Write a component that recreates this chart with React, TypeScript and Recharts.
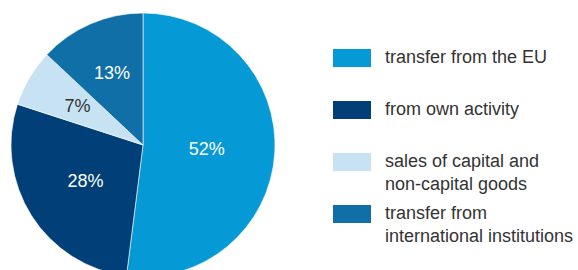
import { PieChart, Pie, Cell, Legend } from "recharts";

const CATEGORIES = [
  "transfer from the EU",
  "from own activity",
  "sales of capital and non-capital goods",
  "transfer from international institutions",
];
const LEGEND_LINES = [
  ["transfer from the EU"],
  ["from own activity"],
  ["sales of capital and", "non-capital goods"],
  ["transfer from", "international institutions"],
];
const SHARES = [52, 28, 7, 13];
const COLORS = ["#0599d6", "#003f77", "#c6e2f3", "#0f6fa6"];
const LABEL_COLORS = ["#ffffff", "#ffffff", "#333333", "#ffffff"];
// distance of each percentage label from the centre
const LABEL_RADII = [64, 68, 76, 78];

const data = CATEGORIES.map((name, i) => ({ name, value: SHARES[i] }));

const RADIAN = Math.PI / 180;

const renderLabel = (props: any) => {
  const { cx, cy, midAngle, index, value } = props;
  const r = LABEL_RADII[index];
  const x = cx + r * Math.cos(-midAngle * RADIAN);
  const y = cy + r * Math.sin(-midAngle * RADIAN);
  return (
    <text
      x={x}
      y={y}
      fill={LABEL_COLORS[index]}
      textAnchor="middle"
      dominantBaseline="central"
      fontSize={18}
      fontFamily="Liberation Sans, Arial, sans-serif"
    >
      {`${value}%`}
    </text>
  );
};

const renderLegend = () => (
  <div style={{ fontFamily: "Liberation Sans, Arial, sans-serif", fontSize: 18, color: "#333" }}>
    {LEGEND_LINES.map((lines, i) => (
      <div key={i} style={{ display: "flex", height: 52, lineHeight: "23px" }}>
        <div
          style={{
            width: 38,
            height: 18,
            marginTop: 2.5,
            marginRight: 14,
            background: COLORS[i],
            flexShrink: 0,
          }}
        />
        <div style={{ whiteSpace: "nowrap" }}>
          {lines.map((l, j) => (
            <div key={j}>{l}</div>
          ))}
        </div>
      </div>
    ))}
  </div>
);

export default function App() {
  return (
    <div style={{ position: "absolute", left: 0, top: 0, background: "#fff" }}>
      <PieChart width={578} height={270} margin={{ top: 0, right: 0, bottom: 0, left: 0 }}>
        <Pie
          data={data}
          dataKey="value"
          nameKey="name"
          cx={143}
          cy={145}
          outerRadius={132}
          startAngle={90}
          endAngle={-270}
          stroke="#ffffff"
          strokeWidth={0.6}
          labelLine={false}
          label={renderLabel}
          isAnimationActive={false}
        >
          {data.map((entry, index) => (
            <Cell key={`cell-${index}`} fill={COLORS[index % COLORS.length]} />
          ))}
        </Pie>
        <Legend
          content={renderLegend}
          layout="vertical"
          wrapperStyle={{ left: 333, top: 46, width: 245 }}
        />
      </PieChart>
    </div>
  );
}
